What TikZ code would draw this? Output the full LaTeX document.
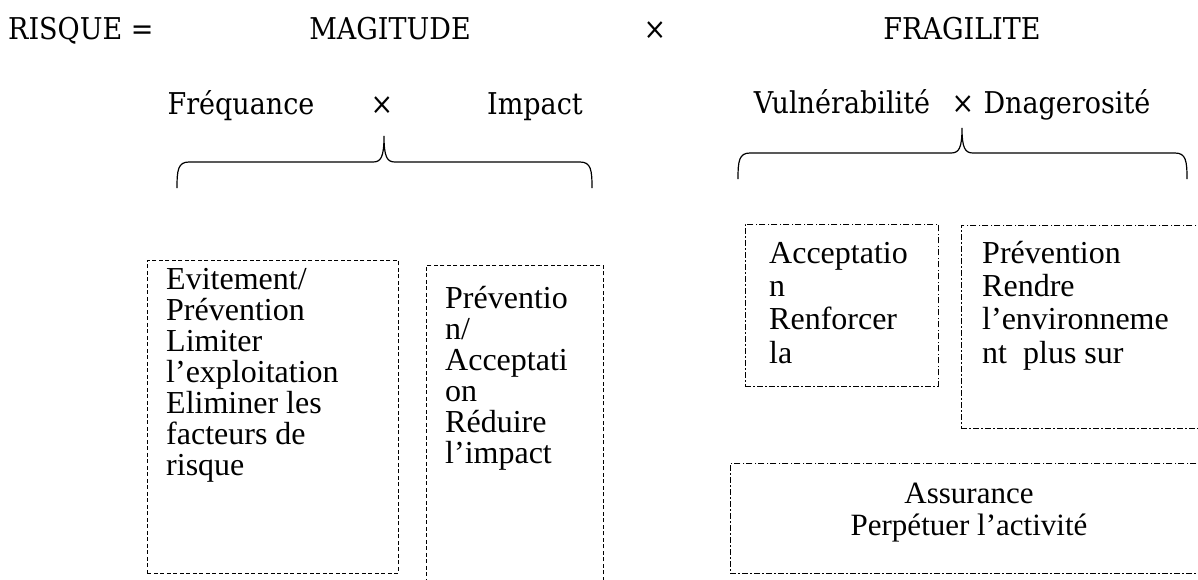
\documentclass[tikz,border=0pt]{standalone}
\usepackage{fontspec}
\setmainfont{Liberation Serif}
\newfontfamily\hdrfont[FakeStretch=0.9]{DejaVu Serif}
\begin{document}
\begin{tikzpicture}[x=1pt,y=-1pt,
  hdr/.style={inner sep=0pt, anchor=base, font=\hdrfont\fontsize{30}{34}\selectfont},
  boxtext/.style={inner sep=0pt, anchor=base west, align=left},
  dashbox/.style={draw, line width=0.9pt, dash pattern=on 4pt off 2.5pt,
    inner sep=0pt, anchor=north west},
  dotbox/.style={draw, line width=0.9pt, dash pattern=on 6pt off 2pt on 1.5pt off 2.5pt,
    inner sep=0pt, anchor=north west},
  brace/.style={line width=1.2pt}]
\useasboundingbox (0,0) rectangle (1198,579);
\clip (0,0) rectangle (1198,579);

% first row: the product
\node[hdr, anchor=base west] (risque) at (8,39) {RISQUE =};
\node[hdr] (magn) at (390,39) {MAGITUDE};
\node[hdr] (times1) at (655,39) {×};
\node[hdr] (frag) at (962,39) {FRAGILITE};

% second row: the two factors of each term
\node[hdr] (freq) at (241,114) {Fréquance};
\node[hdr] (times2) at (382,114) {×};
\node[hdr] (impact) at (535,114) {Impact};
\node[hdr] (vuln) at (842,113) {Vulnérabilité};
\node[hdr] (times3) at (963,113) {×};
\node[hdr] (dang) at (1067,113) {Dnagerosité};

% braces under the factors
\draw[brace] (177,188) .. controls (177,170) and (178,162) .. (189,162)
  -- (373,162) .. controls (381,162) and (384,157) .. (384,136)
  .. controls (384,157) and (387,162) .. (395,162)
  -- (580,162) .. controls (591,162) and (592,170) .. (592,188);
\draw[brace] (738,179) .. controls (738,161) and (739,153) .. (750,153)
  -- (951,153) .. controls (959,153) and (962,148) .. (962,128)
  .. controls (962,148) and (965,153) .. (973,153)
  -- (1175,153) .. controls (1186,153) and (1187,161) .. (1187,179);

% strategy boxes
\node[dashbox, minimum width=251pt, minimum height=313pt] (b1) at (147,260) {};
\node[dashbox, minimum width=177pt, minimum height=340pt] (b2) at (426,265) {};
\node[dotbox, minimum width=193pt, minimum height=162pt] (b3) at (745,224) {};
\node[dotbox, minimum width=260pt, minimum height=203pt] (b4) at (961,225) {};
\node[dotbox, minimum width=490pt, minimum height=110pt] (b5) at (730,463) {};

% texts, placed by the baseline of their last line
\node[boxtext, font=\fontsize{32}{31}\selectfont] (t1) at (166,475)
  {Evitement/\\Prévention\\Limiter\\l’exploitation\\Eliminer les\\facteurs de\\risque};
\node[boxtext, font=\fontsize{32}{31}\selectfont] (t2) at (445,463)
  {Préventio\\n/\\Acceptati\\on\\Réduire\\l’impact};
\node[boxtext, font=\fontsize{32}{33.3}\selectfont] (t3) at (769,363)
  {Acceptatio\\n\\Renforcer\\la};
\node[boxtext, font=\fontsize{32}{33.3}\selectfont] (t4) at (982,363)
  {Prévention\\Rendre\\l’environneme\\nt\ \ plus sur};
\node[boxtext, anchor=base, align=center, font=\fontsize{31}{32}\selectfont] (t5) at (969,535)
  {Assurance\\Perpétuer l’activité};
\end{tikzpicture}
\end{document}
